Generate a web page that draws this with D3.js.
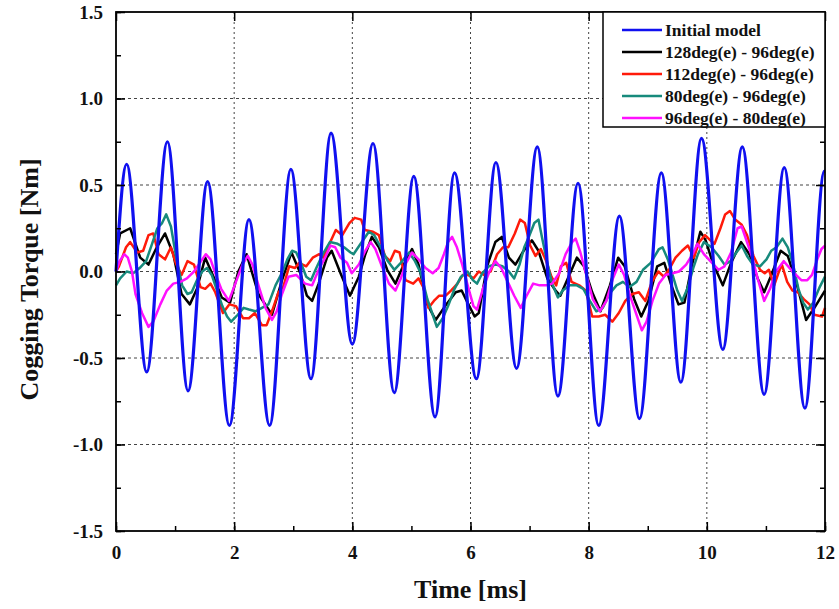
<!DOCTYPE html>
<html>
<head>
<meta charset="utf-8">
<script src="https://cdn.jsdelivr.net/npm/d3@7"></script>
<style>
  body { margin: 0; background: #fff; }
  text { font-family: "Liberation Serif", "Times New Roman", serif; font-weight: bold; }
</style>
</head>
<body>
<svg id="chart" width="839" height="609"></svg>
<script>
// ---- data ----
var seriesNames = ["Initial model", "128deg(e) - 96deg(e)", "112deg(e) - 96deg(e)", "80deg(e) - 96deg(e)", "96deg(e) - 80deg(e)"];
var seriesColors = ["#1010f0", "#000000", "#ff1a0a", "#178a7c", "#ff10ff"];

var xTicks = [0, 2, 4, 6, 8, 10, 12];
var yTicks = [-1.5, -1.0, -0.5, 0.0, 0.5, 1.0, 1.5];

// initial model: peaks and troughs [time ms, torque Nm]
var initialModel = [
  [0, 0.0], [0.18, 0.62], [0.52, -0.58], [0.87, 0.75], [1.22, -0.69], [1.55, 0.52], [1.92, -0.89],
  [2.25, 0.30], [2.6, -0.89], [2.96, 0.59], [3.30, -0.62], [3.64, 0.80], [4.0, -0.42], [4.35, 0.74],
  [4.71, -0.70], [5.04, 0.55], [5.40, -0.84], [5.73, 0.57], [6.10, -0.62], [6.43, 0.63], [6.78, -0.56],
  [7.13, 0.72], [7.48, -0.72], [7.82, 0.51], [8.17, -0.89], [8.52, 0.32], [8.86, -0.85], [9.23, 0.57],
  [9.56, -0.64], [9.91, 0.77], [10.27, -0.45], [10.6, 0.72], [10.97, -0.71], [11.31, 0.60],
  [11.66, -0.79], [11.99, 0.58], [12.0, 0.58]
];

var deg128 = [
  [0, 0.10], [0.07, 0.22], [0.24, 0.25], [0.41, 0.08], [0.55, 0.04], [0.69, 0.14], [0.83, 0.22],
  [0.97, 0.10], [1.11, -0.13], [1.25, -0.19], [1.37, -0.10], [1.51, 0.08], [1.65, -0.03], [1.79, -0.15],
  [1.93, -0.18], [2.07, 0.00], [2.21, 0.10], [2.41, -0.13], [2.64, -0.25], [2.81, -0.05], [2.97, 0.11],
  [3.12, -0.01], [3.23, -0.14], [3.32, -0.17], [3.43, -0.07], [3.57, 0.08], [3.65, 0.12], [3.80, -0.01],
  [3.96, -0.14], [4.11, -0.03], [4.22, 0.10], [4.33, 0.20], [4.45, 0.14], [4.59, 0.01], [4.73, -0.07],
  [4.87, 0.04], [5.01, 0.13], [5.12, 0.04], [5.27, -0.19], [5.41, -0.28], [5.57, -0.20], [5.75, -0.12],
  [5.85, -0.11], [5.95, -0.18], [6.07, -0.26], [6.14, -0.24], [6.28, 0.03], [6.42, 0.17], [6.53, 0.20],
  [6.65, 0.08], [6.76, 0.04], [6.90, 0.12], [7.04, 0.18], [7.15, 0.12], [7.30, -0.04], [7.44, -0.11],
  [7.52, -0.14], [7.66, -0.03], [7.80, 0.08], [7.92, 0.03], [8.06, -0.12], [8.20, -0.23], [8.36, -0.08],
  [8.50, 0.08], [8.61, 0.03], [8.77, -0.16], [8.89, -0.26], [9.01, -0.17], [9.16, 0.03], [9.28, 0.05],
  [9.40, -0.08], [9.52, -0.19], [9.62, -0.18], [9.75, 0.04], [9.89, 0.23], [9.98, 0.18], [10.10, 0.05],
  [10.27, -0.08], [10.41, 0.05], [10.58, 0.17], [10.72, 0.10], [10.86, -0.04], [10.97, -0.12],
  [11.08, -0.03], [11.25, 0.12], [11.37, 0.09], [11.52, -0.07], [11.68, -0.28], [11.82, -0.21], [12.0, -0.11]
];

var deg112 = [
  [0, 0.00], [0.05, 0.03], [0.17, 0.14], [0.24, 0.17], [0.36, 0.11], [0.46, 0.12], [0.55, 0.21],
  [0.63, 0.22], [0.72, 0.10], [0.83, 0.07], [0.93, 0.14], [1.01, 0.05], [1.11, -0.02], [1.21, 0.06],
  [1.32, 0.04], [1.43, -0.09], [1.51, -0.10], [1.60, -0.07], [1.68, -0.12], [1.81, -0.24], [1.92, -0.19],
  [2.03, -0.20], [2.15, -0.27], [2.25, -0.27], [2.35, -0.24], [2.47, -0.31], [2.55, -0.31], [2.65, -0.22],
  [2.75, -0.12], [2.83, -0.09], [2.93, 0.03], [3.03, 0.02], [3.10, 0.05], [3.22, 0.03], [3.33, 0.08],
  [3.44, 0.10], [3.51, 0.08], [3.60, 0.15], [3.72, 0.24], [3.83, 0.21], [3.95, 0.28], [4.04, 0.31],
  [4.15, 0.30], [4.21, 0.24], [4.35, 0.23], [4.45, 0.21], [4.55, 0.09], [4.64, 0.06], [4.72, 0.12],
  [4.80, 0.11], [4.90, -0.05], [5.03, -0.07], [5.12, -0.04], [5.20, -0.09], [5.29, -0.21], [5.38, -0.17],
  [5.47, -0.14], [5.58, -0.14], [5.67, -0.11], [5.78, -0.07], [5.87, -0.02], [5.96, -0.02], [6.05, -0.04],
  [6.14, 0.00], [6.23, -0.02], [6.34, 0.00], [6.45, 0.10], [6.55, 0.14], [6.64, 0.14], [6.75, 0.22],
  [6.84, 0.30], [6.92, 0.28], [7.01, 0.15], [7.10, 0.09], [7.19, 0.13], [7.27, 0.07], [7.37, -0.03],
  [7.45, -0.08], [7.53, 0.03], [7.62, 0.05], [7.71, -0.06], [7.84, -0.08], [7.95, -0.11], [8.06, -0.26],
  [8.17, -0.26], [8.28, -0.25], [8.40, -0.29], [8.51, -0.24], [8.62, -0.17], [8.74, -0.13], [8.85, -0.12],
  [8.96, -0.17], [9.07, -0.06], [9.18, 0.00], [9.27, -0.03], [9.36, 0.01], [9.47, 0.08], [9.58, 0.12],
  [9.68, 0.15], [9.78, 0.08], [9.87, 0.17], [9.97, 0.21], [10.06, 0.18], [10.13, 0.16], [10.23, 0.25],
  [10.31, 0.33], [10.39, 0.35], [10.48, 0.30], [10.59, 0.27], [10.68, 0.21], [10.79, 0.09], [10.90, 0.01],
  [10.98, -0.01], [11.05, 0.01], [11.14, -0.08], [11.21, -0.01], [11.27, 0.04], [11.36, -0.06],
  [11.45, -0.11], [11.54, -0.12], [11.64, -0.16], [11.74, -0.19], [11.82, -0.25], [11.95, -0.26], [12.0, -0.21]
];

var deg80 = [
  [0, -0.08], [0.07, -0.04], [0.18, 0.00], [0.29, -0.01], [0.40, 0.02], [0.51, 0.06], [0.60, 0.15],
  [0.70, 0.25], [0.78, 0.28], [0.85, 0.33], [0.93, 0.26], [1.03, 0.06], [1.12, -0.08], [1.21, -0.13],
  [1.28, -0.12], [1.37, -0.05], [1.46, 0.00], [1.54, 0.02], [1.62, -0.02], [1.71, -0.11], [1.80, -0.20],
  [1.88, -0.26], [1.95, -0.29], [2.06, -0.25], [2.16, -0.21], [2.25, -0.22], [2.36, -0.23], [2.47, -0.21],
  [2.58, -0.19], [2.70, -0.08], [2.82, 0.00], [2.90, 0.07], [2.98, 0.12], [3.05, 0.11], [3.13, 0.05],
  [3.22, -0.03], [3.30, -0.05], [3.39, 0.02], [3.50, 0.10], [3.62, 0.17], [3.75, 0.16], [3.86, 0.14],
  [3.97, 0.11], [4.02, 0.10], [4.14, 0.16], [4.28, 0.23], [4.37, 0.21], [4.48, 0.14], [4.60, 0.06],
  [4.71, 0.01], [4.82, 0.05], [4.96, 0.11], [5.06, 0.06], [5.16, -0.01], [5.27, -0.16], [5.35, -0.24],
  [5.43, -0.32], [5.53, -0.27], [5.62, -0.20], [5.73, -0.10], [5.84, -0.03], [5.95, 0.00], [6.04, -0.05],
  [6.11, -0.07], [6.20, -0.01], [6.31, 0.03], [6.43, 0.04], [6.54, 0.03], [6.65, 0.00], [6.74, -0.04],
  [6.83, 0.04], [6.91, 0.14], [7.00, 0.21], [7.08, 0.28], [7.15, 0.30], [7.22, 0.18], [7.30, 0.05],
  [7.38, -0.07], [7.48, -0.15], [7.56, -0.11], [7.68, -0.08], [7.80, -0.08], [7.91, -0.10], [8.02, -0.17],
  [8.13, -0.23], [8.24, -0.21], [8.35, -0.13], [8.47, -0.08], [8.58, -0.06], [8.69, -0.09], [8.81, -0.06],
  [8.92, 0.01], [9.05, 0.05], [9.19, 0.13], [9.25, 0.14], [9.34, 0.07], [9.42, -0.02], [9.50, -0.11],
  [9.58, -0.17], [9.67, -0.10], [9.77, 0.02], [9.85, 0.10], [9.95, 0.17], [10.08, 0.14], [10.20, 0.09],
  [10.30, 0.04], [10.40, 0.06], [10.50, 0.11], [10.59, 0.15], [10.68, 0.09], [10.78, 0.04], [10.90, 0.03],
  [11.01, 0.07], [11.09, 0.12], [11.18, 0.14], [11.28, 0.19], [11.37, 0.14], [11.46, 0.04], [11.55, -0.10],
  [11.63, -0.18], [11.71, -0.22], [11.80, -0.18], [11.91, -0.09], [12.0, -0.03]
];

var deg96 = [
  [0, 0.00], [0.06, 0.06], [0.14, 0.10], [0.20, 0.08], [0.27, 0.00], [0.33, -0.13], [0.44, -0.24],
  [0.55, -0.32], [0.63, -0.29], [0.75, -0.19], [0.86, -0.11], [0.97, -0.07], [1.09, -0.06], [1.20, -0.04],
  [1.32, 0.00], [1.44, 0.06], [1.52, 0.10], [1.60, 0.07], [1.69, -0.02], [1.78, -0.10], [1.91, -0.17],
  [2.03, -0.06], [2.14, 0.04], [2.23, 0.09], [2.31, 0.04], [2.42, -0.09], [2.53, -0.21], [2.64, -0.28],
  [2.72, -0.23], [2.81, -0.13], [2.92, -0.03], [3.05, -0.02], [3.20, -0.07], [3.32, -0.08], [3.43, 0.01],
  [3.54, 0.08], [3.63, 0.15], [3.71, 0.14], [3.80, 0.08], [3.91, 0.05], [3.99, -0.01], [4.11, 0.04],
  [4.22, 0.12], [4.31, 0.17], [4.39, 0.13], [4.50, 0.03], [4.62, -0.07], [4.73, -0.11], [4.82, -0.04],
  [4.91, 0.05], [5.01, 0.11], [5.12, 0.07], [5.24, 0.02], [5.36, -0.01], [5.46, 0.02], [5.55, 0.10],
  [5.62, 0.17], [5.69, 0.20], [5.77, 0.14], [5.86, 0.04], [5.96, -0.09], [6.05, -0.20], [6.11, -0.22],
  [6.21, -0.10], [6.32, 0.00], [6.42, 0.06], [6.52, 0.02], [6.63, -0.06], [6.74, -0.14], [6.85, -0.21],
  [6.95, -0.14], [7.06, -0.07], [7.17, -0.08], [7.28, -0.08], [7.38, -0.07], [7.50, -0.01], [7.61, 0.10],
  [7.72, 0.17], [7.78, 0.19], [7.86, 0.11], [7.96, -0.02], [8.07, -0.16], [8.19, -0.23], [8.30, -0.17],
  [8.41, -0.04], [8.51, 0.04], [8.60, -0.02], [8.70, -0.14], [8.81, -0.25], [8.90, -0.34], [8.98, -0.29],
  [9.08, -0.17], [9.19, -0.07], [9.30, -0.02], [9.42, -0.01], [9.53, 0.00], [9.65, 0.04], [9.76, 0.10],
  [9.84, 0.16], [9.95, 0.10], [10.06, 0.06], [10.20, 0.01], [10.30, 0.03], [10.41, 0.11], [10.52, 0.25],
  [10.59, 0.26], [10.68, 0.17], [10.76, 0.09], [10.86, -0.04], [10.97, -0.17], [11.07, -0.10],
  [11.17, 0.00], [11.30, 0.06], [11.45, 0.00], [11.60, -0.05], [11.70, -0.05], [11.78, -0.02],
  [11.87, 0.07], [11.94, 0.13], [12.0, 0.15]
];

// ---- layout ----
var svg = d3.select("#chart"),
  margin = {top: 12, right: 14, bottom: 78, left: 116},
  width = +svg.attr("width") - margin.left - margin.right,
  height = +svg.attr("height") - margin.top - margin.bottom;

var x = d3.scaleLinear().domain([0, 12]).range([0, width]);
var y = d3.scaleLinear().domain([-1.5, 1.5]).range([height, 0]);

var g = svg.append("g").attr("transform", "translate(" + margin.left + "," + margin.top + ")");

// dashed grid
g.append("g").selectAll("line").data(yTicks.slice(1, -1)).enter().append("line")
  .attr("x1", 0).attr("x2", width)
  .attr("y1", function(d) { return y(d); }).attr("y2", function(d) { return y(d); })
  .attr("stroke", "#444").attr("stroke-width", 1).attr("stroke-dasharray", "3,3");
g.append("g").selectAll("line").data(xTicks.slice(1, -1)).enter().append("line")
  .attr("y1", 0).attr("y2", height)
  .attr("x1", function(d) { return x(d); }).attr("x2", function(d) { return x(d); })
  .attr("stroke", "#444").attr("stroke-width", 1).attr("stroke-dasharray", "2,3");

// curves
var line = d3.line().x(function(d) { return x(d[0]); }).y(function(d) { return y(d[1]); });
var smooth = d3.line().curve(d3.curveMonotoneX).x(function(d) { return x(d[0]); }).y(function(d) { return y(d[1]); });

var others = [deg128, deg112, deg80, deg96];
others.forEach(function(s, i) {
  g.append("path").datum(s).attr("d", line)
    .attr("fill", "none").attr("stroke", seriesColors[i + 1])
    .attr("stroke-width", 2.5).attr("stroke-linejoin", "round");
});
g.append("path").datum(initialModel).attr("d", smooth)
  .attr("fill", "none").attr("stroke", seriesColors[0]).attr("stroke-width", 3.2);

// axes with inward ticks, hyphen minus like the original
var fmt = function(d) { return d3.format(".1f")(d).replace("\u2212", "-"); };
var yMinor = d3.range(-1.5, 1.501, 0.25);
var xMinor = d3.range(0, 12.01, 1);

g.append("g").call(d3.axisLeft(y).tickValues(yTicks).tickFormat(fmt).tickSize(-9).tickPadding(13))
  .call(function(a) { a.select(".domain").remove(); });
g.append("g").call(d3.axisLeft(y).tickValues(yMinor).tickFormat("").tickSize(-5))
  .call(function(a) { a.select(".domain").remove(); });
g.append("g").attr("transform", "translate(" + width + ",0)")
  .call(d3.axisRight(y).tickValues(yTicks).tickFormat("").tickSize(-9))
  .call(function(a) { a.select(".domain").remove(); });
g.append("g").attr("transform", "translate(" + width + ",0)")
  .call(d3.axisRight(y).tickValues(yMinor).tickFormat("").tickSize(-5))
  .call(function(a) { a.select(".domain").remove(); });
g.append("g").attr("transform", "translate(0," + height + ")")
  .call(d3.axisBottom(x).tickValues(xTicks).tickFormat(d3.format("d")).tickSize(-9).tickPadding(15))
  .call(function(a) { a.select(".domain").remove(); });
g.append("g").attr("transform", "translate(0," + height + ")")
  .call(d3.axisBottom(x).tickValues(xMinor).tickFormat("").tickSize(-5))
  .call(function(a) { a.select(".domain").remove(); });
g.append("g").call(d3.axisTop(x).tickValues(xTicks).tickFormat("").tickSize(-9))
  .call(function(a) { a.select(".domain").remove(); });

g.selectAll(".tick line").attr("stroke", "#000").attr("stroke-width", 1.5);
g.selectAll(".tick text").attr("font-size", 19).attr("fill", "#111")
  .style("font-family", "'Liberation Serif', serif").style("font-weight", "bold");

// frame
g.append("rect").attr("width", width).attr("height", height)
  .attr("fill", "none").attr("stroke", "#000").attr("stroke-width", 1.8);

// legend
var legend = g.append("g").attr("transform", "translate(" + (x(12) - 222) + ",0)");
legend.append("rect").attr("width", 222).attr("height", 115)
  .attr("fill", "#fff").attr("stroke", "#000").attr("stroke-width", 1.5);
var item = legend.selectAll(".item").data(seriesNames).enter().append("g")
  .attr("transform", function(d, i) { return "translate(0," + (18 + i * 22) + ")"; });
item.append("line").attr("x1", 19).attr("x2", 59)
  .attr("stroke", function(d, i) { return seriesColors[i]; }).attr("stroke-width", 2.5);
item.append("text").attr("x", 62).attr("dy", "0.35em").attr("font-size", 17.5).attr("fill", "#111")
  .text(function(d) { return d; });

// axis titles
svg.append("text").attr("x", margin.left + width / 2).attr("y", 598)
  .attr("text-anchor", "middle").attr("font-size", 26).attr("fill", "#111").text("Time [ms]");
svg.append("text").attr("transform", "translate(38," + (margin.top + height / 2 + 8) + ") rotate(-90)")
  .attr("text-anchor", "middle").attr("font-size", 26).attr("fill", "#111").text("Cogging Torque [Nm]");
</script>
</body>
</html>
